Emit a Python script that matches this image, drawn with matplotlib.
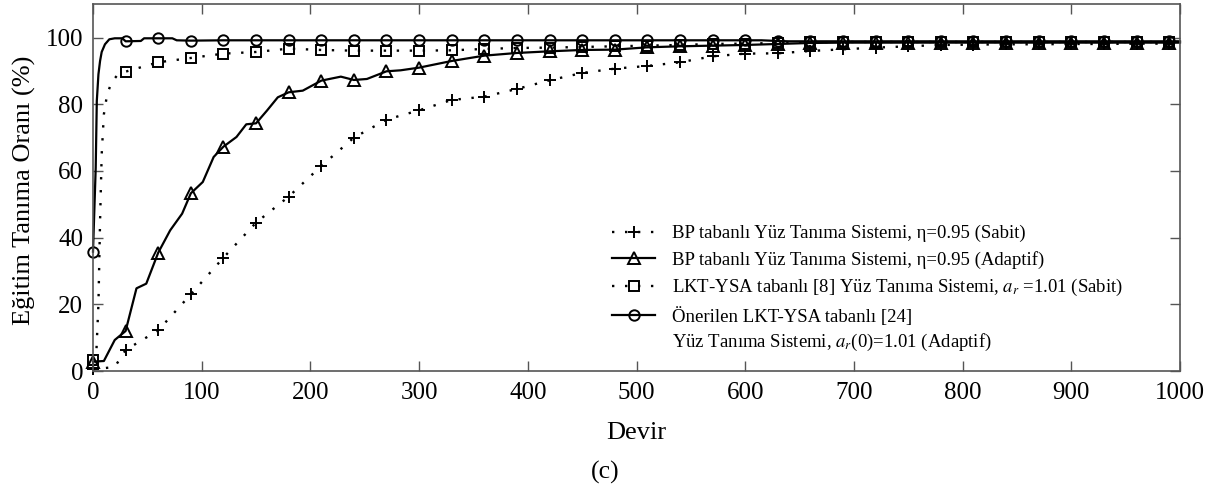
import numpy as np
import matplotlib
matplotlib.use("Agg")
import matplotlib.pyplot as plt

plt.rcParams['font.family'] = ['Liberation Serif', 'DejaVu Serif']
plt.rcParams['mathtext.fontset'] = 'stix'

# BP based face recognition, eta = 0.95 (fixed)
bp_fixed_epoch = [0, 20, 30, 60, 90, 120, 150, 180, 210, 240, 270, 300, 330, 360,
                  390, 420, 450, 480, 510, 540, 570, 600, 630, 660, 690, 720, 750,
                  780, 810, 840, 870, 900, 930, 960, 990, 1000]
bp_fixed_rate = [0.5, 1.2, 6.3, 12.2, 23.0, 34.0, 44.5, 52.3, 61.5, 70.0, 75.4, 78.2,
                 81.3, 82.3, 84.6, 87.2, 89.4, 90.7, 91.5, 92.6, 94.4, 95.2, 95.3,
                 96.0, 96.5, 97.0, 97.4, 97.8, 97.9, 98.0, 98.0, 98.1, 98.1, 98.2, 98.2,
                 98.2]

# BP based face recognition, eta = 0.95 (adaptive)
bp_adapt_epoch = [0, 10, 20, 30, 40, 49, 60, 71, 82, 90, 101, 111, 120, 132, 141, 150,
                  160, 170, 180, 193, 210, 228, 240, 252, 270, 283, 300, 330, 360, 390,
                  420, 450, 480, 510, 540, 570, 600, 630, 660, 690, 720, 750, 780, 810,
                  840, 870, 900, 930, 960, 990, 1000]
bp_adapt_rate = [2.8, 3.0, 9.3, 12.0, 24.8, 26.2, 35.5, 42.2, 47.2, 53.3, 56.7, 64.2,
                 67.3, 70.2, 74.0, 74.3, 78.1, 82.1, 83.6, 84.1, 87.1, 88.3, 87.3, 87.6,
                 89.9, 90.2, 91.0, 93.0, 94.6, 95.4, 95.9, 96.3, 96.4, 97.1, 97.4, 97.6,
                 97.8, 98.1, 98.4, 98.5, 98.5, 98.5, 98.5, 98.5, 98.5, 98.5, 98.5, 98.5,
                 98.5, 98.5, 98.5]

# LKT-YSA [8], a_r = 1.01 (fixed)
lkt_fixed_epoch = [0, 3, 5, 6.5, 8, 10, 13, 17, 22, 30, 60, 90, 120, 150, 180, 210,
                   240, 270, 300, 330, 360, 390, 420, 450, 480, 510, 540, 570, 600,
                   630, 660, 690, 720, 750, 780, 810, 840, 870, 900, 930, 960, 990,
                   1000]
lkt_fixed_rate = [3.2, 5.0, 20.0, 45.0, 65.0, 77.0, 83.0, 86.5, 88.6, 89.8, 92.6, 93.9,
                  95.2, 95.7, 96.7, 96.3, 96.1, 96.1, 96.1, 96.2, 96.6, 96.9, 97.0,
                  97.2, 97.4, 97.6, 97.8, 98.1, 98.2, 98.4, 98.6, 98.7, 98.7, 98.7,
                  98.7, 98.7, 98.7, 98.7, 98.7, 98.7, 98.7, 98.7, 98.7]

# Proposed LKT-YSA [24], a_r(0) = 1.01 (adaptive)
lkt_adapt_epoch = [0, 2.5, 3.5, 5, 6.5, 8, 11, 15, 20, 27, 30, 44, 47, 60, 73, 77, 90,
                   120, 150, 180, 210, 240, 270, 300, 330, 360, 390, 420, 450, 480,
                   510, 540, 570, 600, 615, 630, 640, 660, 690, 720, 750, 780, 810,
                   840, 870, 900, 930, 960, 990, 1000]
lkt_adapt_rate = [35.8, 61.0, 81.0, 89.0, 93.0, 95.7, 98.0, 99.5, 99.8, 99.8, 98.9,
                  99.0, 99.8, 99.8, 99.8, 99.2, 99.1, 99.2, 99.2, 99.2, 99.2, 99.2,
                  99.2, 99.2, 99.2, 99.2, 99.2, 99.2, 99.2, 99.2, 99.2, 99.2, 99.2,
                  99.2, 99.2, 99.0, 98.9, 98.9, 98.9, 98.9, 98.9, 98.9, 98.9, 98.9,
                  98.9, 98.9, 98.9, 98.9, 98.9, 98.9]

labels = [
    "BP tabanlı Yüz Tanıma Sistemi, η=0.95 (Sabit)",
    "BP tabanlı Yüz Tanıma Sistemi, η=0.95 (Adaptif)",
    "LKT-YSA tabanlı [8] Yüz Tanıma Sistemi, $a_r$ =1.01 (Sabit)",
    "Önerilen LKT-YSA tabanlı [24]",
]
label_cont = "Yüz Tanıma Sistemi, $a_r$(0)=1.01 (Adaptif)"

W, H = 1220, 486
fig = plt.figure(figsize=(W / 100, H / 100), dpi=100)
ax = fig.add_axes([93 / W, 1 - 371 / H, (1180 - 93) / W, (371 - 4.3) / H])

dotted = (0, (1, 4.5))


def every30(ep):
    # markers sit on every 30th epoch, up to 990
    return [i for i, e in enumerate(ep) if e % 30 == 0 and e < 1000]


common = dict(color='black', markerfacecolor='none', markeredgecolor='black',
              markeredgewidth=1.4, clip_on=False)
ax.plot(bp_fixed_epoch, bp_fixed_rate, linestyle=dotted, lw=1.7, marker='+',
        ms=9, markevery=every30(bp_fixed_epoch), label=labels[0], **common)
ax.plot(bp_adapt_epoch, bp_adapt_rate, linestyle='-', lw=1.6, marker='^',
        ms=8, markevery=every30(bp_adapt_epoch), label=labels[1], **common)
ax.plot(lkt_fixed_epoch, lkt_fixed_rate, linestyle=dotted, lw=1.7, marker='s',
        ms=6.5, markevery=every30(lkt_fixed_epoch), label=labels[2], **common)
ax.plot(lkt_adapt_epoch, lkt_adapt_rate, linestyle='-', lw=1.6, marker='o',
        ms=7.5, markevery=every30(lkt_adapt_epoch), label=labels[3], **common)

ax.set_xlim(0, 1000)
ax.set_ylim(0, 110)
ax.set_xticks(np.arange(0, 1001, 100))
ax.set_yticks(np.arange(0, 101, 20))
ax.tick_params(direction='in', length=7, width=1.0, color='#555555',
               top=True, right=True, labelsize=18)
ax.tick_params(axis='y', pad=7)
ax.tick_params(axis='x', pad=8)
for sp in ax.spines.values():
    sp.set_color('#555555')
    sp.set_linewidth(1.2)

ax.set_ylabel("Eğitim Tanıma Oranı (%)", fontsize=19, va='center', ha='center')
ax.yaxis.set_label_coords(-0.063, 0.494)
ax.set_xlabel("Devir", fontsize=19, va='center', ha='center')
ax.xaxis.set_label_coords(0.5, -62 / 366.7)
fig.text(605 / W, 1 - 472 / H, "(c)", fontsize=18.5, ha='center', va='center')

leg = ax.legend(loc='upper left', bbox_to_anchor=(612 / W, 1 - 225 / H),
                bbox_transform=fig.transFigure, frameon=False, fontsize=13.5,
                handlelength=2.3, handletextpad=0.9, labelspacing=0.45,
                borderpad=0, borderaxespad=0)

fig.canvas.draw()
last = leg.get_texts()[-1]
bb = last.get_window_extent()
fig.text(bb.x0 / W, (bb.y0 - 6) / H, label_cont, fontsize=13.5,
         ha='left', va='top')

fig.savefig("out.png", dpi=100)
